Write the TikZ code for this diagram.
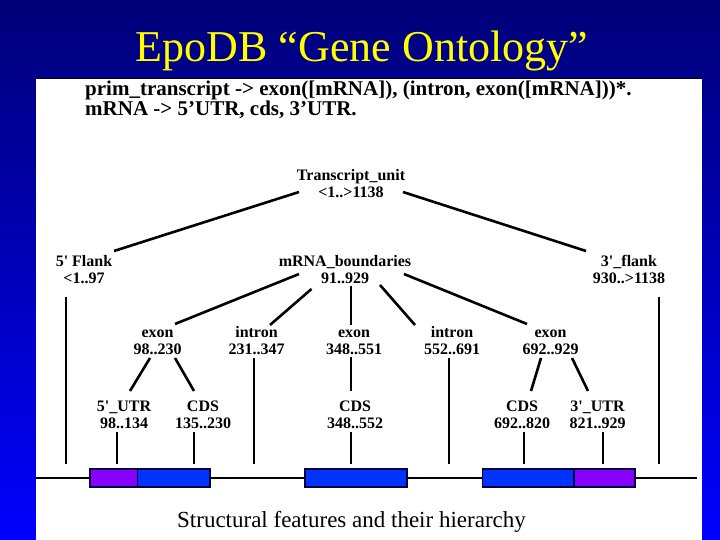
\documentclass[tikz,border=0pt]{standalone}
\usepackage{fontspec}
\setmainfont{Liberation Serif}
\definecolor{slidetop}{RGB}{0,0,120}
\definecolor{slidebot}{RGB}{0,0,255}
\definecolor{titleyellow}{RGB}{255,255,0}
\definecolor{utrpurple}{RGB}{136,0,255}
\definecolor{cdsblue}{RGB}{0,51,255}
\definecolor{boxedge}{RGB}{0,0,60}
\begin{document}
\begin{tikzpicture}[x=1pt,y=-1pt,
      lbl/.style={align=center,inner sep=1pt,font=\fontsize{16}{17}\selectfont\bfseries},
      rule/.style={anchor=base west,inner sep=0pt,font=\fontsize{21}{21}\selectfont\bfseries},
      branch/.style={line width=2.6pt},
      drop/.style={line width=2pt},
      feat/.style={draw=boxedge,line width=1.5pt}]
      \useasboundingbox (0,0) rectangle (720,540);
      \shade[top color=slidetop,bottom color=slidebot] (0,0) rectangle (720,540);
      \fill[white] (36,78) rectangle (702,540);
      \draw[line width=1.5pt] (36,78.5)--(702,78.5);
      \path (362,62) node[anchor=base,text=titleyellow,font=\fontsize{44}{48}\selectfont] (title) {EpoDB “Gene Ontology”};
      \path (85,95.3) node[rule] (rule1) {prim\_transcript -> exon([mRNA]), (intron, exon([mRNA]))*.};
      \path (85,115.3) node[rule] (rule2) {mRNA -> 5’UTR, cds, 3’UTR.};
      \path (351,183.5) node[lbl] (tu) {\strut Transcript\_unit\\<1..>1138};
      \path (84,269.5) node[lbl] (fl5) {\strut 5\textquotesingle{} Flank\\<1..97};
      \path (345,269.5) node[lbl] (mb) {\strut mRNA\_boundaries\\91..929};
      \path (629,269.5) node[lbl] (fl3) {\strut 3\textquotesingle\_flank\\930..>1138};
      \path (157.5,340) node[lbl] (ex1) {\strut exon\\98..230};
      \path (256.5,340) node[lbl] (in1) {\strut intron\\231..347};
      \path (354,340) node[lbl] (ex2) {\strut exon\\348..551};
      \path (452,340) node[lbl] (in2) {\strut intron\\552..691};
      \path (550.5,340) node[lbl] (ex3) {\strut exon\\692..929};
      \path (124,414) node[lbl] (utr5) {\strut 5\textquotesingle\_UTR\\98..134};
      \path (203,414) node[lbl] (cds1) {\strut CDS\\135..230};
      \path (355,414) node[lbl] (cds2) {\strut CDS\\348..552};
      \path (522,414) node[lbl] (cds3) {\strut CDS\\692..820};
      \path (597.5,414) node[lbl] (utr3) {\strut 3\textquotesingle\_UTR\\821..929};
      \draw[branch] ([shift={(-52,8.5)}]tu.center)--([shift={(30,-18.5)}]fl5.center);
      \draw[branch] ([shift={(52,8.5)}]tu.center)--([shift={(-43,-18.5)}]fl3.center);
      \draw[branch] ([shift={(-46,4.5)}]mb.center)--([shift={(17.5,-16)}]ex1.center);
      \draw[branch] ([shift={(-33.5,19.5)}]mb.center)--([shift={(13.5,-15)}]in1.center);
      \draw[branch] ([shift={(6,16.5)}]mb.center)--([shift={(-3,-15)}]ex2.center);
      \draw[branch] ([shift={(35,15.5)}]mb.center)--([shift={(-37,-15)}]in2.center);
      \draw[branch] ([shift={(59,4.5)}]mb.center)--([shift={(-23.5,-16)}]ex3.center);
      \draw[branch] ([shift={(-7.5,18)}]ex1.center)--([shift={(6,-23)}]utr5.center);
      \draw[branch] ([shift={(17.5,18)}]ex1.center)--([shift={(-9,-23)}]cds1.center);
      \draw[branch] ([shift={(-3,17)}]ex2.center)--([shift={(-4,-23)}]cds2.center);
      \draw[branch] ([shift={(-9.5,18)}]ex3.center)--([shift={(9,-23)}]cds3.center);
      \draw[branch] ([shift={(21.5,18)}]ex3.center)--([shift={(-9.5,-23)}]utr3.center);
      \coordinate (seqtop) at (0,464);
      \draw[drop] ([shift={(-18,27.5)}]fl5.center) coordinate (d1)--(d1 |- seqtop);
      \draw[drop] ([shift={(-7,18)}]utr5.center) coordinate (d2)--(d2 |- seqtop);
      \draw[drop] ([shift={(-9,18)}]cds1.center) coordinate (d3)--(d3 |- seqtop);
      \draw[drop] ([shift={(-2.5,18)}]in1.center) coordinate (d4)--(d4 |- seqtop);
      \draw[drop] ([shift={(-4,18)}]cds2.center) coordinate (d5)--(d5 |- seqtop);
      \draw[drop] ([shift={(-3,18)}]in2.center) coordinate (d6)--(d6 |- seqtop);
      \draw[drop] ([shift={(2,18)}]cds3.center) coordinate (d7)--(d7 |- seqtop);
      \draw[drop] ([shift={(5.5,18)}]utr3.center) coordinate (d8)--(d8 |- seqtop);
      \draw[drop] ([shift={(30,27.5)}]fl3.center) coordinate (d9)--(d9 |- seqtop);
      \draw[line width=2.6pt] (36,478)--(697,478);
      \draw[feat,fill=utrpurple] (90,469) rectangle (137.5,487);
      \draw[feat,fill=cdsblue] (137.5,469) rectangle (210,487);
      \draw[feat,fill=cdsblue] (305,469) rectangle (407,487);
      \draw[feat,fill=cdsblue] (482.5,469) rectangle (574,487);
      \draw[feat,fill=utrpurple] (574,469) rectangle (635,487);
      \path (351.5,527) node[anchor=base,font=\fontsize{23}{23}\selectfont] (caption) {Structural features and their hierarchy};
     \end{tikzpicture}
\end{document}
